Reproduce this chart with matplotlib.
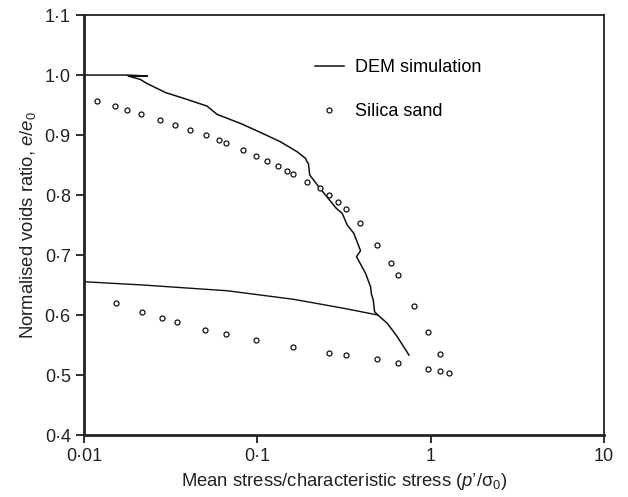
import matplotlib
matplotlib.use('Agg')
import matplotlib.pyplot as plt

plt.rcParams['font.family'] = ['Liberation Sans', 'DejaVu Sans']
plt.rcParams['mathtext.fontset'] = 'custom'
plt.rcParams['mathtext.rm'] = 'Liberation Sans'
plt.rcParams['mathtext.it'] = 'Liberation Sans:italic'

# DEM simulation - loading branch
dem_x = [0.01, 0.0175, 0.0232, 0.0180, 0.0211, 0.0230, 0.0294, 0.0392, 0.0512, 0.0585,
         0.0797, 0.104, 0.1358, 0.1696, 0.1895, 0.1930, 0.197, 0.2006, 0.226, 0.2703,
         0.2850, 0.3088, 0.33, 0.3601, 0.3938, 0.3735, 0.421, 0.4498, 0.4550, 0.4664,
         0.4746, 0.4959, 0.5619, 0.642, 0.749]
dem_y = [1.0, 1.0, 0.9985, 0.9983, 0.9928, 0.9862, 0.971, 0.9595, 0.9483, 0.9345,
         0.9195, 0.9045, 0.8888, 0.8722, 0.8612, 0.8560, 0.8528, 0.8333, 0.8138, 0.7862,
         0.7780, 0.7695, 0.75, 0.7362, 0.7072, 0.6972, 0.6695, 0.6472, 0.6350, 0.625,
         0.6055, 0.6, 0.5862, 0.5638, 0.5333]

# DEM simulation - unloading branch
unl_x = [0.4959, 0.3153, 0.162, 0.0668, 0.022, 0.01]
unl_y = [0.6, 0.6112, 0.6262, 0.6405, 0.65, 0.6555]

# Silica sand
sand_x = [0.01184, 0.0151, 0.01766, 0.0214, 0.0276, 0.0336, 0.0408, 0.0505, 0.0601,
          0.0656, 0.083, 0.0987, 0.1143, 0.131, 0.1477, 0.1614, 0.1928, 0.229,
          0.258, 0.291, 0.324, 0.3887, 0.4874, 0.587, 0.6507, 0.801, 0.9647,
          1.137, 0.9647, 1.137, 1.282,
          0.0153, 0.0217, 0.0281, 0.0342, 0.0496, 0.0662, 0.0983, 0.1614, 0.258,
          0.324, 0.4874, 0.6507]
sand_y = [0.957, 0.949, 0.941, 0.9355, 0.9245, 0.9167, 0.909, 0.8995, 0.892,
          0.886, 0.875, 0.865, 0.856, 0.848, 0.8405, 0.835, 0.822, 0.811,
          0.7995, 0.788, 0.776, 0.7533, 0.7172, 0.6867, 0.666, 0.615, 0.571,
          0.5355, 0.5105, 0.507, 0.5033,
          0.6205, 0.605, 0.5955, 0.5883, 0.575, 0.5678, 0.5583, 0.5467, 0.5367,
          0.5333, 0.5262, 0.5205]

fig = plt.figure(figsize=(6.28, 4.97), dpi=100)
ax = fig.add_axes([0.1338, 0.1247, 0.828, 0.845])

ax.plot(dem_x, dem_y, color='#111111', lw=1.1, label='DEM simulation')
ax.plot(unl_x, unl_y, color='#111111', lw=1.0)
ax.plot(sand_x, sand_y, ls='none', marker='o', ms=3.6, mfc='white', mec='#111111',
        mew=0.9, label='Silica sand')

ax.set_xscale('log')
ax.set_xlim(0.01, 10)
ax.set_ylim(0.4, 1.1)
ax.set_xticks([0.01, 0.1, 1, 10])
ax.set_xticklabels(['0·01', '0·1', '1', '10'])
ax.minorticks_off()
yt = [0.4, 0.5, 0.6, 0.7, 0.8, 0.9, 1.0, 1.1]
ax.set_yticks(yt)
ax.set_yticklabels([('%.1f' % v).replace('.', '·') for v in yt])
ax.tick_params(labelsize=13, length=6, width=1.3, color='#222222', labelcolor='#222222')

for s in ['left', 'bottom']:
    ax.spines[s].set_linewidth(2.0)
for s in ['top', 'right']:
    ax.spines[s].set_linewidth(1.3)
for s in ax.spines.values():
    s.set_color('#222222')

ax.set_xlabel("Mean stress/characteristic stress ($\\it{p}$’/σ$_0$)", fontsize=13.3,
              color='#222222', labelpad=4)
ax.set_ylabel("Normalised voids ratio, $\\it{e}$/$\\it{e}_0$", fontsize=13.3,
              color='#222222', labelpad=5)

ax.legend(loc='upper left', bbox_to_anchor=(0.43, 0.912), frameon=False, fontsize=13,
          handlelength=1.6, handletextpad=0.6, labelspacing=1.5, numpoints=1,
          borderaxespad=0)

fig.savefig('out.png', dpi=100)
